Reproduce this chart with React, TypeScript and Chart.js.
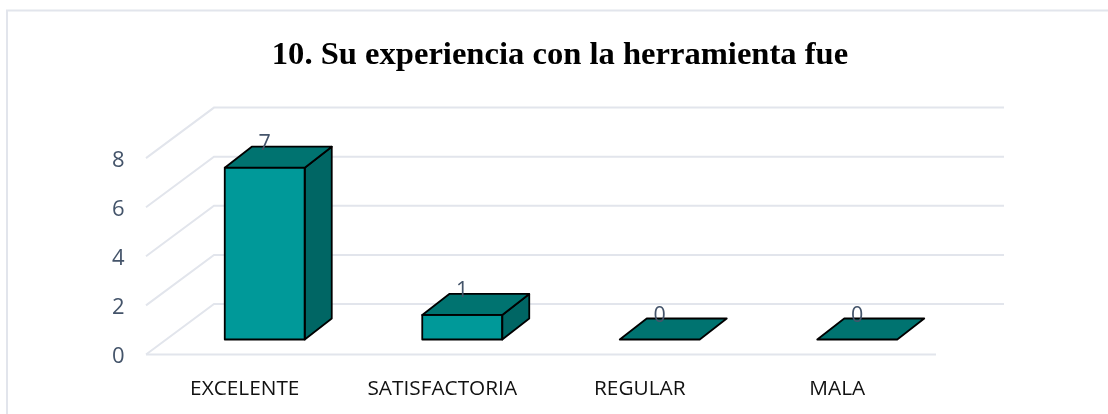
import React, { useEffect, useRef } from "react";
import { Chart, registerables } from "chart.js";

Chart.register(...registerables);

const TITLE = "10. Su experiencia con la herramienta fue";
const categories = ["EXCELENTE", "SATISFACTORIA", "REGULAR", "MALA"];
const values = [7, 1, 0, 0];
const yTicks = [0, 2, 4, 6, 8];

const GRID = "#e2e5ec";
const TEXT_BLUE = "#44546a";
const FRONT = "#009999";
const TOP = "#007370";
const SIDE = "#006664";

// oblique projection of the floor and of the bars
const FLOOR_DX = 68;
const FLOOR_DY = -50.5;
const BAR_SHIFT_X = 20;
const BAR_SHIFT_Y = -15;
const DEPTH_DX = 27;
const DEPTH_DY = -21;

const obliquePlugin = {
  id: "oblique",
  beforeDatasetsDraw(chart: any) {
    const { ctx, chartArea, scales } = chart;
    const y = scales.y;
    ctx.save();
    // frame of the picture
    ctx.strokeStyle = GRID;
    ctx.lineWidth = 2;
    ctx.beginPath();
    ctx.moveTo(7, 414);
    ctx.lineTo(7, 10.5);
    ctx.lineTo(1108, 10.5);
    ctx.stroke();
    // perspective grid
    ctx.strokeStyle = GRID;
    ctx.lineWidth = 2;
    for (const t of yTicks) {
      const py = y.getPixelForValue(t);
      ctx.beginPath();
      ctx.moveTo(chartArea.left, py);
      ctx.lineTo(chartArea.left + FLOOR_DX, py + FLOOR_DY);
      ctx.lineTo(chartArea.right + FLOOR_DX, py + FLOOR_DY);
      ctx.stroke();
    }
    const y0 = y.getPixelForValue(0);
    ctx.beginPath();
    ctx.moveTo(chartArea.left, y0);
    ctx.lineTo(chartArea.right, y0);
    ctx.stroke();
    ctx.restore();
  },
  beforeDatasetDraw(chart: any) {
    chart.ctx.save();
    chart.ctx.translate(BAR_SHIFT_X, BAR_SHIFT_Y);
  },
  afterDatasetDraw(chart: any) {
    chart.ctx.restore();
  },
  afterDatasetsDraw(chart: any) {
    const { ctx } = chart;
    const bars = chart.getDatasetMeta(0).data;
    const poly = (pts: number[][], fill: string) => {
      ctx.beginPath();
      pts.forEach((p, i) => (i ? ctx.lineTo(p[0], p[1]) : ctx.moveTo(p[0], p[1])));
      ctx.closePath();
      ctx.fillStyle = fill;
      ctx.fill();
      ctx.stroke();
    };
    ctx.save();
    ctx.strokeStyle = "#000";
    ctx.lineWidth = 1.8;
    ctx.lineJoin = "round";
    bars.forEach((bar: any, i: number) => {
      const { x, y, base, width } = bar.getProps(["x", "y", "base", "width"], true);
      const l = x - width / 2 + BAR_SHIFT_X;
      const r = x + width / 2 + BAR_SHIFT_X;
      const t = y + BAR_SHIFT_Y;
      const b = base + BAR_SHIFT_Y;
      if (b - t > 0.5) {
        poly([[r, t], [r + DEPTH_DX, t + DEPTH_DY], [r + DEPTH_DX, b + DEPTH_DY], [r, b]], SIDE);
        // outline of the front face, centred on its edge like the other faces
        ctx.strokeRect(l, t, r - l, b - t);
      }
      poly([[l, t], [l + DEPTH_DX, t + DEPTH_DY], [r + DEPTH_DX, t + DEPTH_DY], [r, t]], TOP);
      ctx.fillStyle = TEXT_BLUE;
      ctx.font = "21.5px 'Open Sans'";
      ctx.textAlign = "center";
      ctx.textBaseline = "alphabetic";
      ctx.fillText(String(values[i]), x + BAR_SHIFT_X, t - 18);
    });
    ctx.restore();
  },
};

export default function App() {
  const ref = useRef<HTMLCanvasElement>(null);
  useEffect(() => {
    const chart = new Chart(ref.current as HTMLCanvasElement, {
      type: "bar",
      data: {
        labels: categories,
        datasets: [
          {
            data: values,
            backgroundColor: FRONT,
            borderWidth: 0,
            barPercentage: 0.405,
            categoryPercentage: 1,
          },
        ],
      },
      options: {
        animation: false,
        responsive: false,
        plugins: {
          legend: { display: false },
          tooltip: { enabled: false },
          title: {
            display: true,
            text: TITLE,
            color: "#000",
            font: { family: "'Liberation Serif'", size: 32.6, weight: "bold", lineHeight: 1.2 },
            padding: { top: 36.5, bottom: 82.5 },
          },
        },
        scales: {
          x: {
            grid: { display: false },
            border: { display: false },
            ticks: {
              color: "#111",
              font: { family: "'Open Sans'", size: 20.8 },
              padding: 14,
              maxRotation: 0,
              autoSkip: false,
            },
            afterFit(s: any) {
              s.height = 59.5;
            },
          },
          y: {
            min: 0,
            max: 8,
            grid: { display: false, drawTicks: false },
            border: { display: false },
            ticks: {
              stepSize: 2,
              color: TEXT_BLUE,
              font: { family: "'Open Sans'", size: 22 },
              padding: 21.5,
              labelOffset: 2.5,
            },
            afterFit(s: any) {
              s.width = 146;
            },
          },
          // empty right-hand axis: reserves the space right of the floor
          yRight: {
            position: "right",
            grid: { display: false },
            border: { display: false },
            ticks: { display: false },
            afterFit(s: any) {
              s.width = 184;
            },
          },
        },
      },
      plugins: [obliquePlugin],
    } as any);
    return () => chart.destroy();
  }, []);
  return (
    <div style={{ position: "fixed", left: 0, top: 0, width: 1108, height: 414, overflow: "hidden", background: "#fff" }}>
      <canvas ref={ref} width={1120} height={414} style={{ display: "block" }} />
    </div>
  );
}
